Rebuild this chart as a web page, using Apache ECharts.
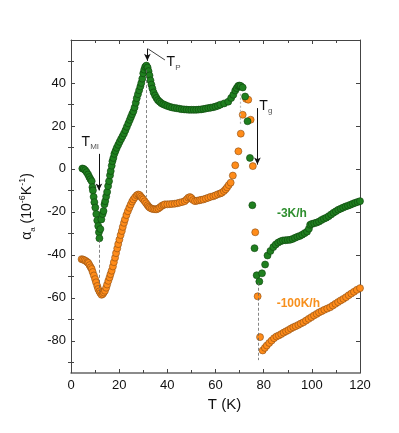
<!DOCTYPE html>
<html>
<head>
<meta charset="utf-8">
<script src="https://cdn.jsdelivr.net/npm/echarts@6/dist/echarts.min.js"></script>
<style>
  html, body { margin: 0; padding: 0; background: #fff; }
  #chart { width: 399px; height: 433px; }
</style>
</head>
<body>
<div id="chart"></div>
<script>
// -3K/h cooling run: [T (K), alpha_a (1e-6/K)]
const slowCooling = [
  [4.7,0.2],[5.3,0],[5.9,-0.6],[6.5,-1.5],[7.1,-2.6],[7.6,-3.8],[8.1,-4.8],[8.6,-5.7],[8.9,-8.5],[9.1,-10],
  [9.4,-13],[9.7,-15.5],[10.1,-18],[10.5,-21],[10.9,-24],[11.3,-26.6],[11.6,-29.5],[11.8,-32.3],
  [12.2,-28],[12.6,-23.5],[13.1,-21],[13.5,-19.6],[13.9,-16.5],[14.2,-15],[14.6,-12.8],[15.0,-10.7],[15.4,-8],
  [15.8,-5.7],[16.2,-3],[16.5,-1],[16.9,1.5],[17.2,3.6],[17.6,5.1],[18.0,7],[18.5,8.4],[19.0,9.8],[19.6,11.2],
  [20.2,12.6],[20.8,13.9],[21.4,15.2],[22.0,16.5],[22.6,18],[23.2,19.6],[23.8,21.2],[24.4,22.8],[24.9,24.2],
  [25.4,25.5],[25.9,26.8],[26.4,28.6],[26.9,30.8],[27.3,32.9],[27.8,34.8],[28.3,36.6],[28.8,38.4],[29.2,40],
  [29.6,42],[30.0,44.5],[30.4,46.2],[30.8,47.5],[31.3,48.1],[31.8,47.2],[32.2,45.5],[32.6,43.5],[33.0,41.2],
  [33.4,39.2],[33.8,37.4],[34.3,35.6],[34.9,34.2],[35.5,33],[36.1,32],[36.8,31.3],[37.5,30.6],[38.3,30.1],
  [39.1,29.7],[40.0,29.3],[41.0,28.9],[42.0,28.6],[43.0,28.4],[44.0,28.2],[45.0,28],[46.0,27.8],[47.0,27.7],
  [48.0,27.6],[49.0,27.5],[50.0,27.5],[51.0,27.5],[52.0,27.5],[53.0,27.6],[54.0,27.7],[55.0,27.9],[56.0,28.1],
  [57.0,28.3],[58.0,28.5],[59.0,28.7],[60.0,29],[61.0,29.4],[62.0,29.9],[63.6,30.5],[65.3,31.3],[66.5,33],
  [67.4,34.5],[68.2,36.5],[68.8,37.6],[69.4,38.6],[69.9,38.8],[70.5,38.6],[71.3,37.9],[72.3,33.7],[73.3,22.2],
  [74.3,5.1],[75.3,-16.9],[76.2,-36.9],[77.1,-49.5],[78.2,-52.4],[79.3,-48.6],[80.6,-44.5],[81.6,-40.3],
  [82.8,-38.2],[84.0,-36.4],[85.0,-35.2],[86.0,-34.3],[87.0,-33.7],[88.0,-33.3],[89.0,-33.2],[90.0,-33.1],
  [91.0,-33],[92.0,-32.6],[93.0,-32.1],[94.0,-31.6],[95.0,-31.2],[96.0,-30.6],[97.0,-29.9],[98.0,-29.2],
  [98.8,-27.8],[99.3,-26],[100.0,-25.6],[101.0,-25.3],[102.0,-25],[103.0,-24.5],[104.0,-23.8],[105.0,-23.2],
  [106.0,-22.7],[107.0,-22],[108.0,-21.2],[109.0,-20.4],[110.0,-19.7],[111.0,-19],[112.0,-18.5],[113.0,-18],
  [114.0,-17.5],[115.0,-17.1],[116.0,-16.7],[117.0,-16.2],[118.0,-15.8],[119.0,-15.4],[120.0,-15]
];

// -100K/h cooling run
const fastCooling = [
  [4.4,-42],[5.0,-42.2],[5.6,-42.5],[6.2,-42.9],[6.8,-43.4],[7.2,-43.8],[7.7,-44.8],[8.2,-45.8],[8.6,-46.6],
  [9.0,-48],[9.5,-49.6],[10.0,-51.3],[10.4,-52.8],[10.9,-54.5],[11.3,-55.9],[11.8,-57],[12.2,-57.8],[12.7,-58.6],
  [13.2,-58.2],[13.6,-57.5],[14.1,-56.7],[14.6,-55.3],[15.0,-53.8],[15.5,-52.1],[16.0,-50.5],[16.4,-49],
  [16.9,-47.4],[17.4,-45.4],[17.8,-43.4],[18.3,-41.3],[18.7,-39.2],[19.2,-37],[19.6,-35],[20.1,-32.9],
  [20.6,-30.8],[21.1,-28.9],[21.5,-27],[22.0,-25.1],[22.4,-23.5],[23.0,-21.5],[23.6,-19.7],[24.2,-18.1],
  [24.8,-16.6],[25.4,-15.2],[25.9,-14.2],[26.6,-13.2],[27.3,-12.3],[27.9,-11.9],[28.5,-12.2],[29.0,-12.9],
  [29.5,-13.6],[30.0,-14.2],[30.6,-15.1],[31.2,-16],[31.8,-16.9],[32.3,-17.6],[32.8,-18.1],[33.5,-18.5],
  [34.2,-18.7],[34.9,-18.8],[35.6,-18.8],[36.3,-18.4],[37.0,-17.8],[37.7,-17.2],[38.4,-16.8],[39.0,-16.5],
  [40.0,-16.5],[41.0,-16.4],[42.0,-16.3],[43.1,-16.2],[44.1,-16],[45.1,-15.7],[46.2,-15.4],[47.2,-15],
  [48.0,-14.2],[48.7,-13.4],[49.4,-13.1],[50.0,-13.6],[50.7,-14.5],[51.5,-15],[52.4,-14.8],[53.3,-14.6],
  [54.1,-14.4],[55.0,-14.2],[56.0,-13.8],[57.0,-13.4],[58.0,-13],[59.1,-12.7],[60.0,-12.3],[61.0,-11.8],
  [62.0,-11.4],[62.6,-11.1],[63.5,-10.3],[64.2,-9.5],[64.8,-8.6],[65.5,-7.5],[66.3,-6.4],[67.2,-3.1],
  [68.2,1.7],[69.5,8.2],[70.5,16.4],[71.3,25.2],[72.7,32.6],[73.6,32.2],[74.6,22.9],[75.5,1.3],[76.5,-29.5],
  [77.5,-59.3],[78.5,-78.3],[79.6,-84.5],[80.5,-83.3],[81.3,-82.2],[82.3,-81],[83.3,-79.9],[84.3,-78.8],
  [85.3,-78],[86.3,-77.5],[87.3,-76.9],[88.3,-76.2],[89.3,-75.6],[90.3,-75],[91.3,-74.3],[92.3,-73.7],
  [93.3,-73.2],[94.4,-72.6],[95.4,-72],[96.5,-71.4],[97.6,-70.6],[98.7,-69.8],[99.8,-69],[100.9,-68.2],
  [102.0,-67.5],[103.0,-66.8],[104.1,-66.2],[105.2,-65.6],[106.4,-65],[107.6,-64.4],[108.7,-63.6],
  [109.8,-62.8],[110.9,-62],[112.0,-61.2],[113.1,-60.5],[114.2,-59.7],[115.3,-58.8],[116.4,-58],
  [117.5,-57.2],[118.7,-56.3],[120.0,-55.5]
];

const yLabelTicks = [-80, -60, -40, -20, 0, 20, 40];
const yMinorTicks = [-90, -70, -50, -30, -10, 10, 30, 50];

// guide lines [x, yFrom, yTo]
const dashedGuides = [[11.8, -33, -57], [31.4, 46, -13], [77.9, -53, -89]];
const dottedGuides = [[70.2, 35, 21]];
// arrows [x, yFrom, yTo]
const arrows = [[11.6, 7, -10], [31.7, 56, 50.3], [77.4, 28.3, 2]];
const tpPointer = [[32.1, 55.8], [39.0, 50.7]];

// annotation text [x, y, main, sub]
const transitionLabels = [[4.4, 12, 'T', 'MI'], [39.7, 49.1, 'T', 'P'], [78.2, 28.7, 'T', 'g']];
const rateLabels = [[85.5, -20.9, '-3K/h', '#2f8f2f'], [85.4, -62.9, '-100K/h', '#f7901e']];

const font = 'Liberation Sans, Arial, sans-serif';
const axisColor = '#444';

const markLineData = [];
dashedGuides.forEach(g => markLineData.push([
  { coord: [g[0], g[1]], lineStyle: { type: [3, 2], color: '#666', width: 0.8 } },
  { coord: [g[0], g[2]] }
]));
dottedGuides.forEach(g => markLineData.push([
  { coord: [g[0], g[1]], lineStyle: { type: [2, 2], color: '#bbb', width: 1.2 } },
  { coord: [g[0], g[2]] }
]));
arrows.forEach(a => markLineData.push([
  { coord: [a[0], a[1]], symbol: 'none', lineStyle: { type: 'solid', color: '#111', width: 1 } },
  { coord: [a[0], a[2]], symbol: 'arrow', symbolSize: [5, 7] }
]));
markLineData.push([
  { coord: tpPointer[0], symbol: 'none', lineStyle: { type: 'solid', color: '#111', width: 0.8 } },
  { coord: tpPointer[1], symbol: 'none' }
]);

const markPointData = [];
transitionLabels.forEach(t => markPointData.push({
  coord: [t[0], t[1]], symbol: 'circle', symbolSize: 0,
  label: {
    show: true, position: 'right', distance: 0,
    formatter: '{m|' + t[2] + '}{s|' + t[3] + '}',
    rich: {
      m: { fontFamily: font, fontSize: 14, color: '#111', lineHeight: 16, verticalAlign: 'top' },
      s: { fontFamily: font, fontSize: 8, color: '#555', verticalAlign: 'bottom' }
    }
  }
}));
rateLabels.forEach(r => markPointData.push({
  coord: [r[0], r[1]], symbol: 'circle', symbolSize: 0,
  label: {
    show: true, position: 'right', distance: 0, formatter: r[2],
    fontFamily: font, fontSize: 12, fontWeight: 'bold', color: r[3]
  }
}));

const baseY = {
  type: 'value', min: -95, max: 60,
  axisLine: { show: true, onZero: false, lineStyle: { color: axisColor, width: 1 } },
  splitLine: { show: false }
};

const option = {
  animation: false,
  backgroundColor: '#fff',
  grid: { left: 71, right: 39, top: 40, bottom: 60 },
  xAxis: [
    {
      type: 'value', min: 0, max: 120, interval: 20, position: 'bottom',
      name: 'T (K)', nameLocation: 'middle', nameGap: 23,
      nameTextStyle: { fontFamily: font, fontSize: 15, color: '#111', padding: [0, 0, 0, 18] },
      axisLine: { show: true, onZero: false, lineStyle: { color: '#666', width: 1.5 } },
      axisTick: { inside: true, length: 4, lineStyle: { color: axisColor } },
      minorTick: { show: true, splitNumber: 2, length: 3, lineStyle: { color: axisColor } },
      axisLabel: { fontFamily: font, fontSize: 13, color: '#111', margin: 6 },
      splitLine: { show: false }
    },
    {
      type: 'value', min: 0, max: 120, interval: 20, position: 'top',
      axisLine: { show: true, onZero: false, lineStyle: { color: axisColor, width: 1 } },
      axisTick: { inside: true, length: 4, lineStyle: { color: axisColor } },
      minorTick: { show: true, splitNumber: 2, length: 3, lineStyle: { color: axisColor } },
      axisLabel: { show: false },
      splitLine: { show: false }
    }
  ],
  yAxis: [
    Object.assign({}, baseY, {
      position: 'left',
      name: '{t|α}{sub|a}{t| (10}{sup|-6}{t|K}{sup|-1}{t|)}',
      nameLocation: 'middle', nameRotate: 90, nameGap: 26,
      nameTextStyle: {
        rich: {
          t: { fontFamily: font, fontSize: 14, color: '#111', lineHeight: 18, verticalAlign: 'middle' },
          sub: { fontFamily: font, fontSize: 8, color: '#111', verticalAlign: 'bottom' },
          sup: { fontFamily: font, fontSize: 9, color: '#111', verticalAlign: 'top' }
        }
      },
      axisTick: { inside: true, length: 4, customValues: yLabelTicks, lineStyle: { color: axisColor } },
      axisLabel: { fontFamily: font, fontSize: 13, color: '#111', margin: 5, customValues: yLabelTicks }
    }),
    Object.assign({}, baseY, {
      position: 'right',
      axisTick: { inside: true, length: 4, customValues: yLabelTicks, lineStyle: { color: axisColor } },
      axisLabel: { show: false }
    }),
    Object.assign({}, baseY, {
      position: 'left',
      axisLine: { show: false },
      axisTick: { inside: true, length: 3, customValues: yMinorTicks, lineStyle: { color: axisColor } },
      axisLabel: { show: false }
    }),
    Object.assign({}, baseY, {
      position: 'right',
      axisLine: { show: false },
      axisTick: { inside: true, length: 3, customValues: yMinorTicks, lineStyle: { color: axisColor } },
      axisLabel: { show: false }
    })
  ],
  series: [
    {
      name: 'guides', type: 'scatter', data: [], silent: true,
      markLine: { silent: true, symbol: 'none', label: { show: false }, data: markLineData },
      markPoint: { silent: true, data: markPointData }
    },
    {
      name: '-100K/h', type: 'scatter', data: fastCooling, symbolSize: 7,
      itemStyle: { color: '#ff8c1a', borderColor: '#8a4b12', borderWidth: 0.6, opacity: 1 }
    },
    {
      name: '-3K/h', type: 'scatter', data: slowCooling, symbolSize: 7,
      itemStyle: { color: '#1f7f1f', borderColor: '#0b430b', borderWidth: 0.6, opacity: 1 }
    }
  ]
};

const chart = echarts.init(document.getElementById('chart'));
chart.setOption(option);
</script>
</body>
</html>
